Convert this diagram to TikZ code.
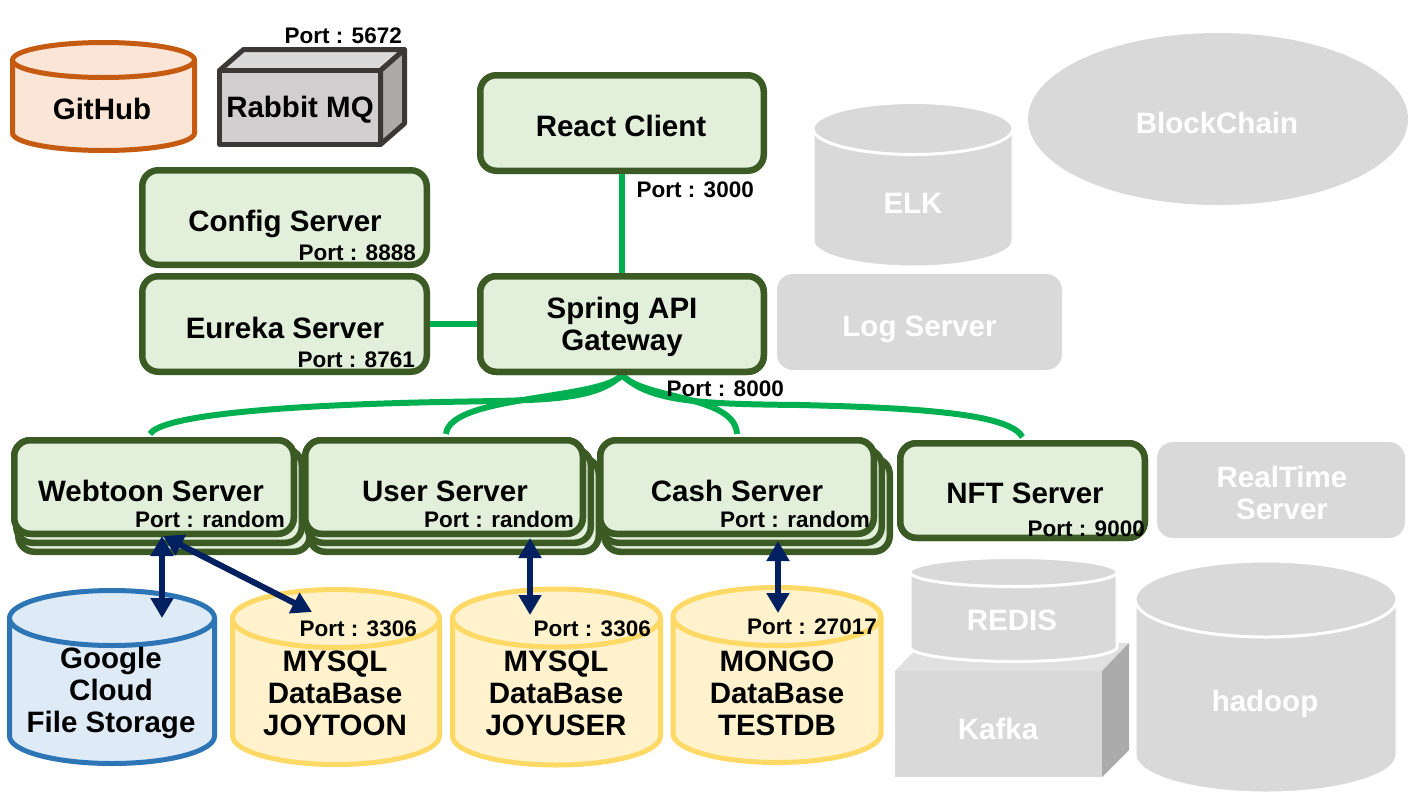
\documentclass[tikz,border=0pt]{standalone}
\usepackage{fontspec}
\setmainfont{Liberation Sans}
\usetikzlibrary{arrows.meta}
\definecolor{dkgreen}{HTML}{3B5A24}
\definecolor{ltgreen}{HTML}{E2EFDA}
\definecolor{lineg}{HTML}{00B050}
\definecolor{navy}{HTML}{002060}
\definecolor{orng}{HTML}{C55A11}
\definecolor{orngfill}{HTML}{FBE5D6}
\definecolor{blu}{HTML}{2E75B6}
\definecolor{blufill}{HTML}{DEEBF7}
\definecolor{ylw}{HTML}{FFD966}
\definecolor{ylwfill}{HTML}{FFF2CC}
\definecolor{gry}{HTML}{D9D9D9}
\definecolor{gryside}{HTML}{ABABAB}
\definecolor{grytop}{HTML}{E0E0E0}
\definecolor{rbline}{HTML}{3B3838}
\definecolor{rbfront}{HTML}{D0CECE}
\definecolor{rbtop}{HTML}{DADADA}
\definecolor{rbside}{HTML}{AEAAAA}
\newcommand\drawcyl[6]{%
\filldraw[#1] (#2-#3,#4) -- (#2-#3,#5) arc[start angle=180,end angle=0,x radius=#3,y radius=#6] -- (#2+#3,#4) arc[start angle=0,end angle=-180,x radius=#3,y radius=#6] -- cycle;
\draw[#1] (#2-#3,#4) arc[start angle=180,end angle=0,x radius=#3,y radius=#6];
}
\tikzset{
 srvbox/.style={draw=dkgreen, fill=ltgreen, line width=6.5pt, rounded corners=16pt, inner sep=0pt},
 graybox/.style={fill=gry, rounded corners=16pt, inner sep=0pt},
 lbl/.style={font=\bfseries\fontsize{29.5}{32}\selectfont, inner sep=0pt, align=center},
 wlbl/.style={lbl, text=white},
 portlbl/.style={font=\bfseries\fontsize{22.5}{24}\selectfont, inner sep=0pt, anchor=base east},
 conn/.style={draw=lineg, line width=6pt},
 dblarrow/.style={draw=navy, line width=6pt, {Triangle[width=22pt,length=20pt]}-{Triangle[width=22pt,length=20pt]}},
 orngcyl/.style={draw=orng, fill=orngfill, line width=5pt},
 blucyl/.style={draw=blu, fill=blufill, line width=5pt},
 ylwcyl/.style={draw=ylw, fill=ylwfill, line width=5pt},
 grycyl/.style={draw=white, fill=gry, line width=3pt},
}
\begin{document}
\begin{tikzpicture}[x=1pt,y=-1pt]
\useasboundingbox (0,0) rectangle (1417,804);

% ---------- grey (future) components ----------
\fill[gry] (1218,119) ellipse[x radius=190, y radius=86];
\node[wlbl, anchor=base] (blockchain) at (1217,133) {BlockChain};
\drawcyl{grycyl}{913}{100}{128.5}{241}{26}
\node[wlbl, anchor=base] (elk) at (913,213) {ELK};
\node[graybox, minimum width=285pt, minimum height=96pt] (logsrv) at (919.5,322) {};
\node[wlbl, anchor=base] (logtxt) at (919.5,336) {Log Server};
\node[graybox, minimum width=248pt, minimum height=96pt] (rtsrv) at (1281,490) {};
\node[wlbl] (rttxt) at (1282,493) {RealTime\\Server};
% Kafka box
\fill[grytop] (895,671) -- (922,643) -- (1129,643) -- (1102,671) -- cycle;
\fill[gryside] (1102,671) -- (1129,643) -- (1129,750) -- (1102,777) -- cycle;
\fill[gry] (895,671) rectangle (1102,777);
\node[wlbl, anchor=base] (kafka) at (998,739) {Kafka};
\drawcyl{grycyl}{1013.5}{103.5}{572}{647}{14.5}
\node[wlbl, anchor=base] (redis) at (1012,630) {REDIS};
\drawcyl{grycyl}{1266}{131}{599}{755}{38}
\node[wlbl, anchor=base] (hadoop) at (1265,711) {hadoop};

% ---------- GitHub, RabbitMQ ----------
\drawcyl{orngcyl}{103.5}{91}{60}{133}{17.5}
\node[lbl, anchor=base] (github) at (102,119) {GitHub};
\filldraw[draw=rbline, fill=rbtop, line width=5pt, line join=round] (219.5,70.5) -- (243.5,49.5) -- (404.5,49.5) -- (380.5,70.5) -- cycle;
\filldraw[draw=rbline, fill=rbside, line width=5pt, line join=round] (380.5,70.5) -- (404.5,49.5) -- (404.5,123.5) -- (380.5,144.5) -- cycle;
\filldraw[draw=rbline, fill=rbfront, line width=5pt, line join=round] (219.5,70.5) rectangle (380.5,144.5);
\node[lbl, anchor=base] (rabbit) at (300,117) {Rabbit MQ};
\node[portlbl] (p5672) at (402,43) {Port : 5672};

% ---------- main boxes ----------
\node[srvbox, minimum width=283.5pt, minimum height=95.5pt] (react) at (622,123) {};
\node[srvbox, minimum width=283.5pt, minimum height=95.5pt] (gw) at (622,324) {};
\node[srvbox, minimum width=284.5pt, minimum height=94.5pt] (config) at (284.5,217.5) {};
\node[srvbox, minimum width=284.5pt, minimum height=95.5pt] (eureka) at (284.5,324) {};

% connectors (green)
\draw[conn] (react.south) -- (gw.north);
\draw[conn] (eureka.east) -- (gw.west);

% stacked servers
\foreach \nm/\cx/\w in {web/154/279.5, user/444/277.5, cash/737/273.5}{
  \pgfmathsetmacro\wa{\w+12}\pgfmathsetmacro\wb{\w+6}
  \node[srvbox, minimum width=\wa pt, minimum height=93.5pt] (\nm3) at (\cx+10,505) {};
  \node[srvbox, minimum width=\wb pt, minimum height=93.5pt] (\nm2) at (\cx+5,496) {};
  \node[srvbox, minimum width=\w pt, minimum height=93.5pt] (\nm) at (\cx,487) {};
}
\node[srvbox, minimum width=244.5pt, minimum height=94.5pt] (nft) at (1022.5,490.5) {};

% curves from gateway
\draw[conn] (gw.south) .. controls (594,402) and (540,400) .. (440,402) .. controls (250,406) and (160,418) .. ([xshift=-4pt,yshift=3pt]web.north);
\draw[conn] (gw.south) .. controls (600,400) and (450,395) .. ([xshift=2pt,yshift=3pt]user.north);
\draw[conn] (gw.south) .. controls (645,400) and (735,395) .. ([yshift=3pt]cash.north);
\draw[conn] (gw.south) .. controls (650,402) and (700,404) .. (800,405) .. controls (930,408) and (1010,415) .. ([yshift=3pt]nft.north);
% redraw box outlines over the curve ends
\foreach \nm/\cx/\w in {web/154/279.5, user/444/277.5, cash/737/273.5}{
  \node[srvbox, minimum width=\w pt, minimum height=93.5pt] (\nm top) at (\cx,487) {};
}
\node[srvbox, minimum width=244.5pt, minimum height=94.5pt] (nfttop) at (1022.5,490.5) {};
\node[srvbox, minimum width=283.5pt, minimum height=95.5pt] (gwtop) at (622,324) {};

% texts in boxes
\node[lbl, anchor=base] (reacttxt) at (621,136) {React Client};
\node[portlbl] (p3000) at (754,197) {Port : 3000};
\node[lbl] (gwtxt) at (622,327) {Spring API\\Gateway};
\node[portlbl] (p8000) at (784,396) {Port : 8000};
\node[lbl, anchor=base] (configtxt) at (285,231) {Config Server};
\node[portlbl] (p8888) at (416,260) {Port : 8888};
\node[lbl, anchor=base] (eurekatxt) at (285,338) {Eureka Server};
\node[portlbl] (p8761) at (415,367) {Port : 8761};
\node[lbl, anchor=base] (webtxt) at (151,501) {Webtoon Server};
\node[portlbl] (pweb) at (285,527) {Port : random};
\node[lbl, anchor=base] (usertxt) at (445,501) {User Server};
\node[portlbl] (puser) at (574,527) {Port : random};
\node[lbl, anchor=base] (cashtxt) at (737,501) {Cash Server};
\node[portlbl] (pcash) at (870,527) {Port : random};
\node[lbl, anchor=base] (nfttxt) at (1025,503) {NFT Server};
\node[portlbl] (p9000) at (1145,536) {Port : 9000};

% ---------- databases ----------
\drawcyl{blucyl}{112}{102.5}{618}{736}{27.5}
\node[lbl] (gcs) at (111,693) {Google\\Cloud\\File Storage};
\drawcyl{ylwcyl}{336}{103.5}{618.5}{735.5}{29}
\node[lbl] (joytoon) at (335,693) {MYSQL\\DataBase\\JOYTOON};
\node[portlbl] (p3306a) at (417,636.5) {Port : 3306};
\drawcyl{ylwcyl}{556.5}{104}{618}{736}{29}
\node[lbl] (joyuser) at (556,693) {MYSQL\\DataBase\\JOYUSER};
\node[portlbl] (p3306b) at (651,636) {Port : 3306};
\drawcyl{ylwcyl}{777}{104}{616.5}{733.5}{29}
\node[lbl] (testdb) at (777,693) {MONGO\\DataBase\\TESTDB};
\node[portlbl] (p27017) at (877,634) {Port : 27017};

% ---------- navy arrows ----------
\coordinate (gcsTop) at (162,618);
\coordinate (joytoonTop) at (312,612);
\coordinate (joyuserTop) at (530,615);
\coordinate (testdbTop) at (778,613);
\draw[dblarrow] ([xshift=8pt,yshift=1pt]web.south) -- (gcsTop);
\draw[dblarrow] ([xshift=9pt,yshift=1pt]web.south) -- (joytoonTop);
\draw[dblarrow] ([xshift=86pt,yshift=-1pt]user.south) -- (joyuserTop);
\draw[dblarrow] ([xshift=41pt,yshift=-4pt]cash.south) -- (testdbTop);
\end{tikzpicture}
\end{document}
